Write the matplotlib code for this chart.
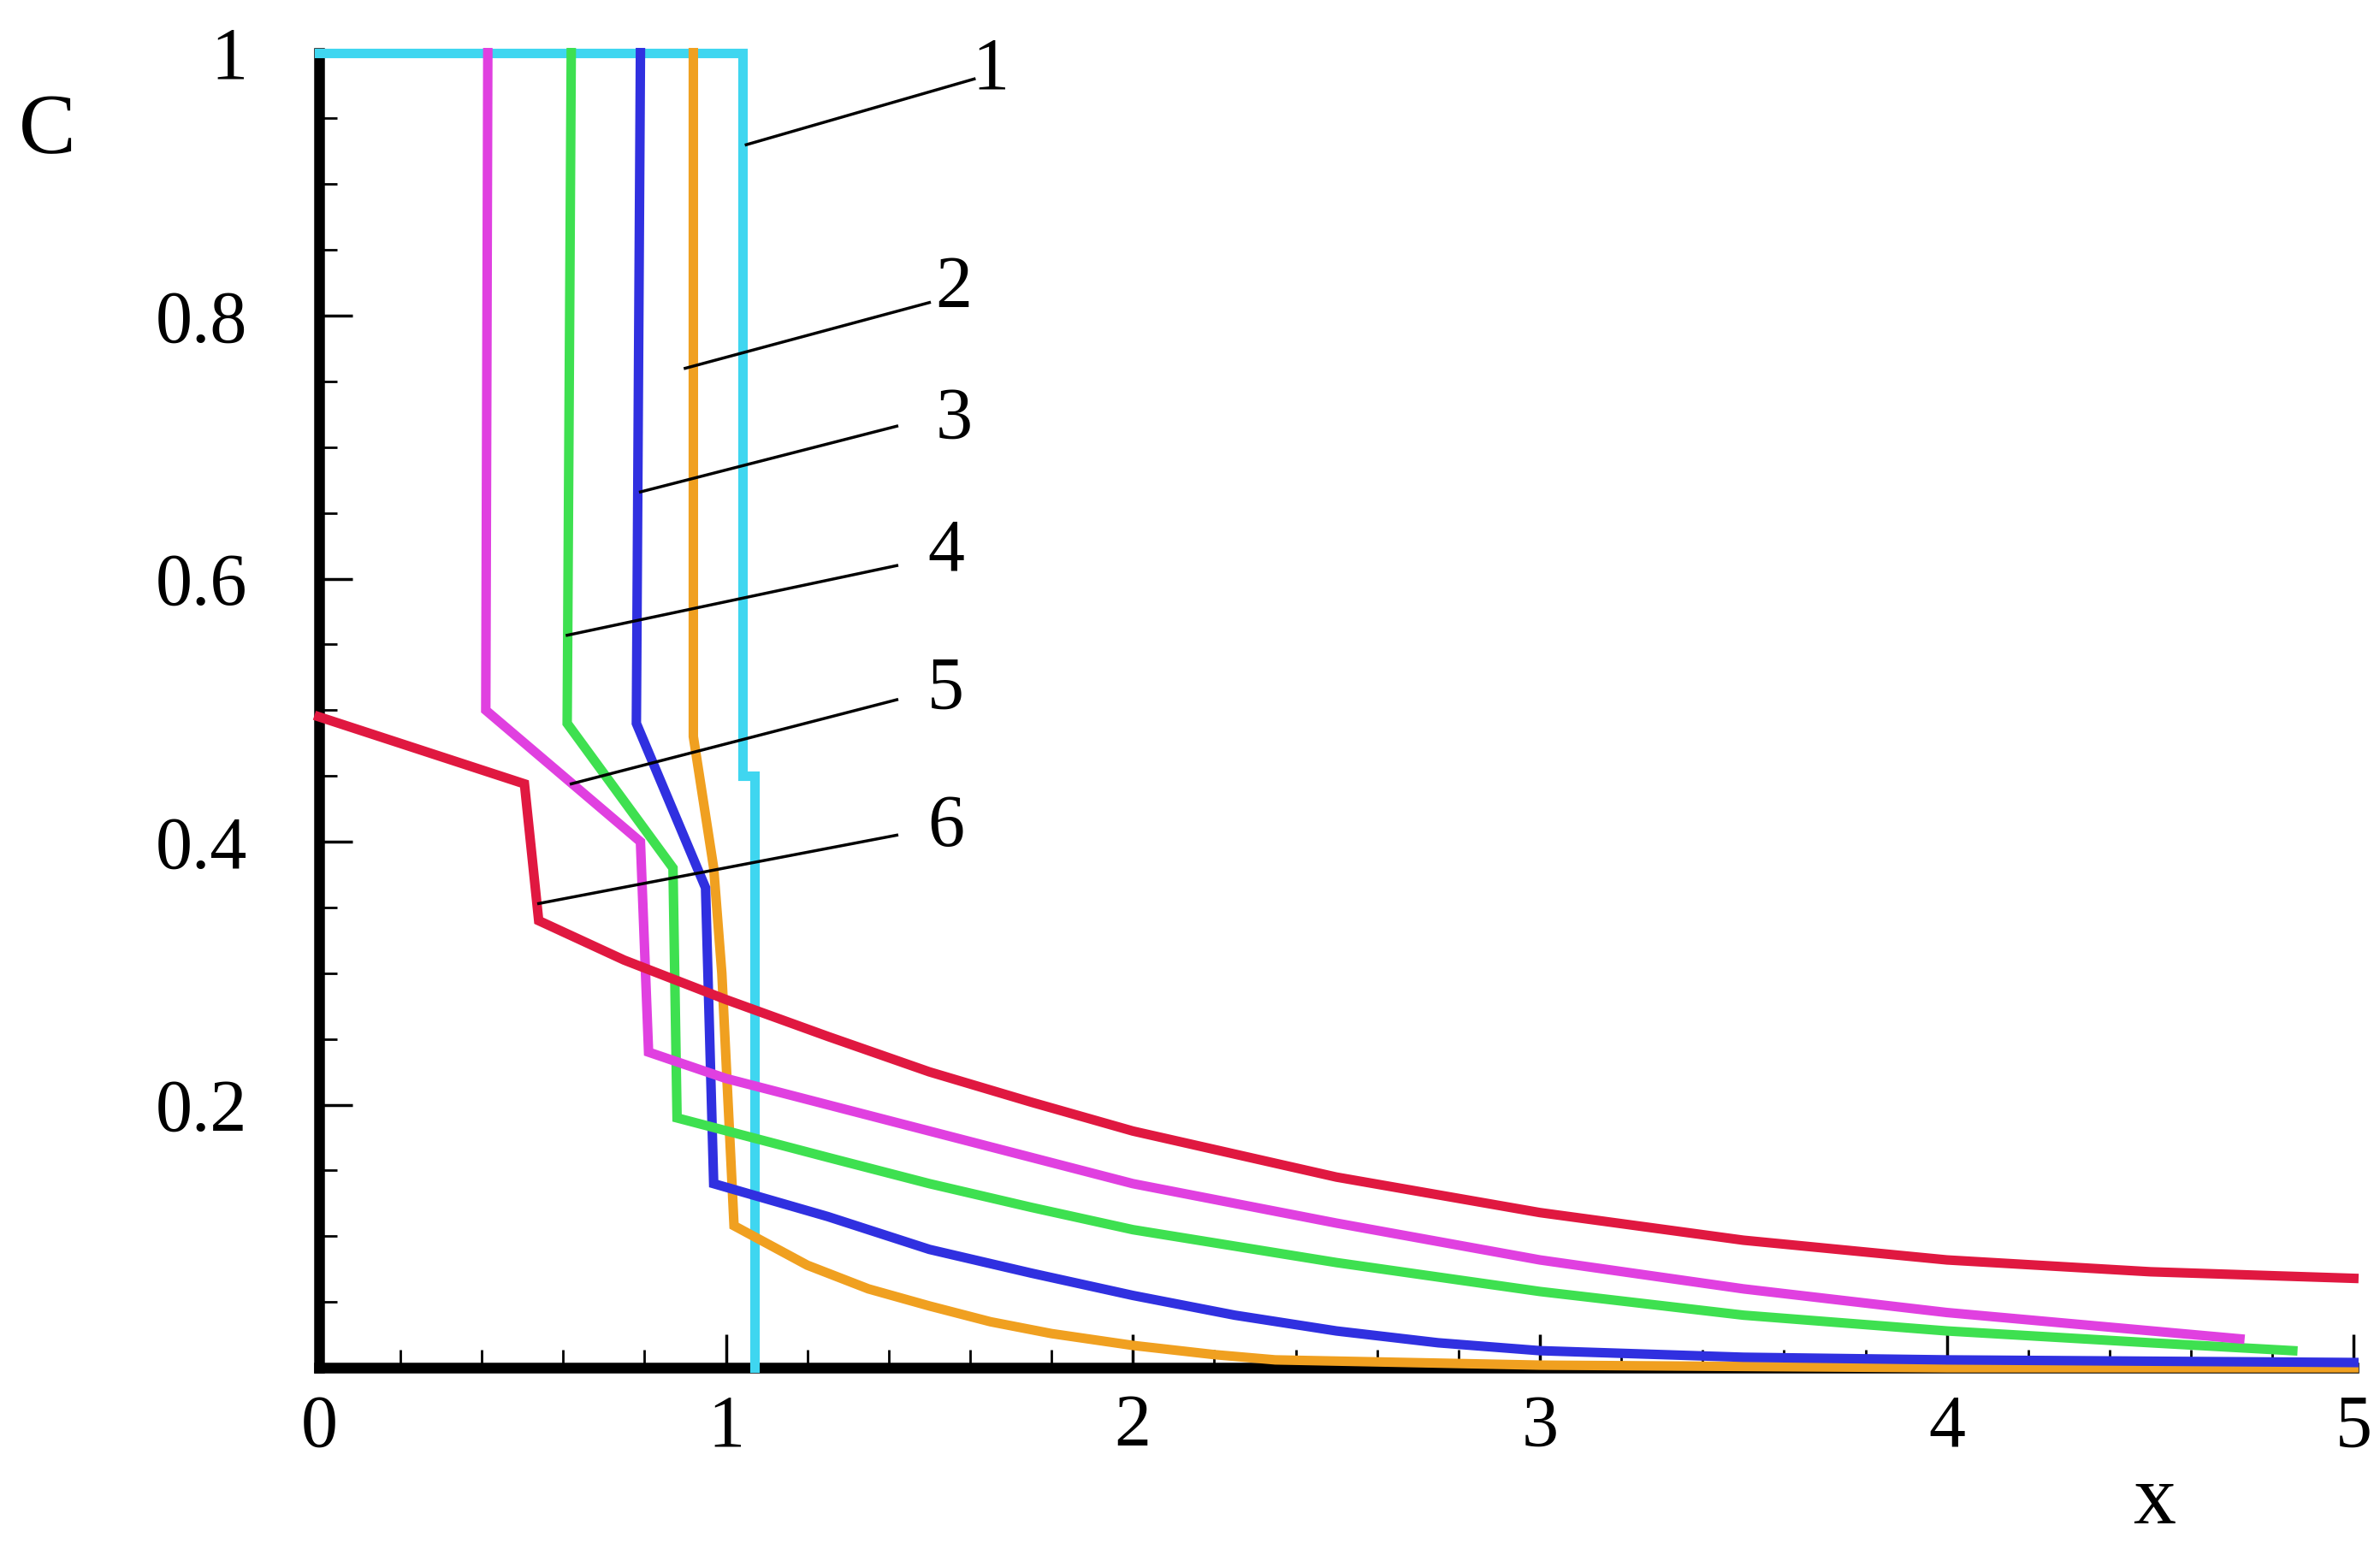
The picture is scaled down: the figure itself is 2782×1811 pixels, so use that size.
import matplotlib
matplotlib.use("Agg")
import matplotlib.pyplot as plt
from matplotlib.ticker import MultipleLocator

c1_x = [0, 1.04, 1.04, 1.07, 1.07]
c1_y = [1, 1, 0.45, 0.45, 0.0]
c2_x = [0.92, 0.92, 0.97, 0.99, 1.02, 1.2, 1.35, 1.5, 1.65, 1.8, 2.0, 2.2, 2.35, 3.0, 4.0, 5.0]
c2_y = [1, 0.48, 0.38, 0.30, 0.108, 0.078, 0.06, 0.047, 0.035, 0.026, 0.017, 0.01, 0.006, 0.002, 0.0, 0.0]
c3_x = [0.79, 0.78, 0.95, 0.97, 1.25, 1.5, 1.75, 2.0, 2.25, 2.5, 2.75, 3.0, 3.5, 4.0, 5.0]
c3_y = [1, 0.49, 0.365, 0.14, 0.115, 0.09, 0.072, 0.055, 0.04, 0.028, 0.019, 0.013, 0.008, 0.006, 0.004]
c4_x = [0.62, 0.61, 0.87, 0.88, 1.25, 1.5, 1.75, 2.0, 2.5, 3.0, 3.5, 4.0, 4.5, 4.85]
c4_y = [1, 0.49, 0.38, 0.19, 0.16, 0.14, 0.122, 0.105, 0.08, 0.058, 0.04, 0.028, 0.019, 0.013]
c5_x = [0.415, 0.41, 0.79, 0.81, 1.0, 1.25, 1.5, 1.75, 2.0, 2.5, 3.0, 3.5, 4.0, 4.72]
c5_y = [1, 0.50, 0.40, 0.24, 0.22, 0.2, 0.18, 0.16, 0.14, 0.11, 0.082, 0.06, 0.042, 0.022]
c6_x = [0, 0.505, 0.54, 0.75, 1.0, 1.25, 1.5, 1.75, 2.0, 2.5, 3.0, 3.5, 4.0, 4.5, 5.0]
c6_y = [0.495, 0.444, 0.34, 0.31, 0.28, 0.252, 0.225, 0.202, 0.18, 0.145, 0.118, 0.097, 0.082, 0.073, 0.068]

curves = [(c1_x, c1_y, '#3fd6f0'), (c2_x, c2_y, '#f0a020'), (c3_x, c3_y, '#3030e0'),
          (c4_x, c4_y, '#3ee050'), (c5_x, c5_y, '#e040e0'), (c6_x, c6_y, '#e01840')]

labels = ['1', '2', '3', '4', '5', '6']
lab_pos = [(1.65, 0.986), (1.56, 0.82), (1.56, 0.72), (1.54, 0.62), (1.54, 0.515), (1.54, 0.41)]
lead_start = [(1.05, 0.93), (0.9, 0.76), (0.79, 0.666), (0.61, 0.557), (0.62, 0.444), (0.54, 0.353)]
lead_end = [(1.61, 0.98), (1.5, 0.81), (1.42, 0.716), (1.42, 0.61), (1.42, 0.508), (1.42, 0.405)]

plt.rcParams['font.family'] = ['Liberation Serif', 'DejaVu Serif']
fig = plt.figure(figsize=(27.82, 18.11), dpi=100)
ax = fig.add_axes([0.134, 0.117, 0.855, 0.849])
for x, y, c in curves:
    ax.plot(x, y, color=c, lw=8, solid_joinstyle='miter', clip_on=False, zorder=3)
for t, p, s, e in zip(labels, lab_pos, lead_start, lead_end):
    ax.plot([s[0], e[0]], [s[1], e[1]], color='black', lw=2.5, zorder=4)
    ax.text(p[0], p[1], t, fontsize=62, ha='center', va='center')

ax.set_xlim(0, 5)
ax.set_ylim(0, 1)
for sp in ['top', 'right']:
    ax.spines[sp].set_visible(False)
for sp in ['left', 'bottom']:
    ax.spines[sp].set_linewidth(9)
ax.xaxis.set_minor_locator(MultipleLocator(0.2))
ax.yaxis.set_minor_locator(MultipleLocator(0.05))
ax.tick_params(which='major', direction='in', length=28, width=2.5, labelsize=62)
ax.tick_params(axis='x', which='major', pad=22)
ax.tick_params(axis='y', which='major', pad=60)
ax.tick_params(which='minor', direction='in', length=15, width=2)
ax.set_xticks([0, 1, 2, 3, 4, 5])
ax.set_xticklabels(['0', '1', '2', '3', '4', '5'])
ax.set_yticks([0.2, 0.4, 0.6, 0.8, 1.0])
ax.set_yticklabels(['0.2', '0.4', '0.6', '0.8', '1'])
fig.text(0.02, 0.915, 'C', fontsize=72, ha='center', va='center')
fig.text(0.905, 0.03, 'x', fontsize=72, ha='center', va='center')
fig.savefig('out.png', dpi=100)
